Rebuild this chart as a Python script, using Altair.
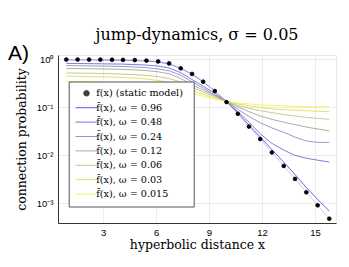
import altair as alt
import pandas as pd

# ---------------- data ----------------
x_vals = [0.92, 1.56, 2.21, 2.85, 3.51, 4.13, 4.80, 5.46, 6.12, 6.74, 7.40, 8.04,
          8.67, 9.33, 9.99, 10.63, 11.26, 11.90, 12.56, 13.23, 13.87, 14.51, 15.15, 15.81]

# log10 of connection probability
static_log = [-0.004, -0.004, -0.005, -0.006, -0.008, -0.012, -0.016, -0.026, -0.045, -0.085,
              -0.187, -0.305, -0.465, -0.66, -0.89, -1.134, -1.40, -1.66, -1.94, -2.22,
              -2.49, -2.77, -3.04, -3.32]

w096 = [-0.010, -0.010, -0.010, -0.012, -0.015, -0.020, -0.025, -0.035, -0.055, -0.095,
        -0.19, -0.31, -0.47, -0.66, -0.88, -1.12, -1.37, -1.62, -1.88, -2.14,
        -2.40, -2.67, -2.92, -3.16]
w048 = [-0.085, -0.087, -0.090, -0.093, -0.097, -0.100, -0.110, -0.120, -0.140, -0.180,
        -0.28, -0.42, -0.56, -0.71, -0.88, -1.09, -1.31, -1.55, -1.75, -1.89,
        -2.00, -2.06, -2.10, -2.14]
w024 = [-0.130, -0.133, -0.136, -0.140, -0.145, -0.150, -0.160, -0.175, -0.200, -0.240,
        -0.33, -0.47, -0.60, -0.74, -0.88, -1.04, -1.19, -1.32, -1.43, -1.52,
        -1.62, -1.70, -1.73, -1.73]
w012 = [-0.190, -0.193, -0.197, -0.200, -0.205, -0.210, -0.220, -0.235, -0.260, -0.300,
        -0.40, -0.53, -0.64, -0.76, -0.88, -0.99, -1.09, -1.18, -1.25, -1.31,
        -1.36, -1.41, -1.45, -1.49]
w006 = [-0.285, -0.288, -0.290, -0.295, -0.300, -0.310, -0.320, -0.335, -0.360, -0.400,
        -0.47, -0.58, -0.68, -0.78, -0.88, -0.96, -1.02, -1.07, -1.11, -1.15,
        -1.18, -1.21, -1.23, -1.25]
w003 = [-0.350, -0.355, -0.360, -0.365, -0.370, -0.380, -0.390, -0.410, -0.440, -0.480,
        -0.55, -0.65, -0.73, -0.81, -0.88, -0.93, -0.97, -1.00, -1.03, -1.05,
        -1.06, -1.07, -1.08, -1.09]
w0015 = [-0.460, -0.465, -0.470, -0.475, -0.480, -0.490, -0.500, -0.520, -0.540, -0.580,
         -0.63, -0.71, -0.77, -0.83, -0.88, -0.91, -0.93, -0.95, -0.96, -0.97,
         -0.98, -0.985, -0.99, -0.99]

labels = ["f(x)  (static model)",
          "f\u0304(x),  ω = 0.96",
          "f\u0304(x),  ω = 0.48",
          "f\u0304(x),  ω = 0.24",
          "f\u0304(x),  ω = 0.12",
          "f\u0304(x),  ω = 0.06",
          "f\u0304(x),  ω = 0.03",
          "f\u0304(x),  ω = 0.015"]
series_logs = [w096, w048, w024, w012, w006, w003, w0015]

x_ticks = [3, 6, 9, 12, 15]
y_ticks = [1, 0.1, 0.01, 0.001]

# ---------------- styles ----------------
colors = ["#2828f0", "#4848d2", "#7373b3", "#8f8f82", "#b6b65e", "#d6d63c", "#f0f020"]

rows = []
for lab, col, vals in zip(labels[1:], colors, series_logs):
    for xv, lv in zip(x_vals, vals):
        rows.append({"series": lab, "color": col, "x": xv, "p": 10 ** lv})
lines_df = pd.DataFrame(rows)
static_df = pd.DataFrame({"series": labels[0], "x": x_vals,
                          "p": [10 ** v for v in static_log]})

xenc = alt.X("x:Q",
             scale=alt.Scale(domain=[0.45, 16.19], nice=False, zero=False),
             axis=alt.Axis(values=x_ticks, title="hyperbolic distance x",
                           labelPadding=4, titlePadding=2))
yenc = alt.Y("p:Q",
             scale=alt.Scale(type="log", domain=[0.00039, 1.23], nice=False),
             axis=alt.Axis(values=y_ticks, title="connection probability",
                           labelExpr="datum.value > 0.5 ? '10\u2070' : datum.value > 0.05 ? '10\u207b\u00b9' : datum.value > 0.005 ? '10\u207b\u00b2' : '10\u207b\u00b3'",
                           labelPadding=5, titlePadding=8))

lines = alt.Chart(lines_df).mark_line(strokeWidth=1, opacity=0.72).encode(
    x=xenc, y=yenc,
    color=alt.Color("color:N", scale=None),
    detail="series:N",
    order="x:Q",
)

static_line = alt.Chart(static_df).mark_line(color="#c4c4c4", strokeWidth=0.8).encode(
    x=xenc, y=yenc, order="x:Q"
)

leg = alt.Legend(title=None, orient="none", legendX=10.7, legendY=26.5,
                 fillColor="white", strokeColor="#555555", padding=7,
                 symbolSize=30, symbolStrokeWidth=1, symbolOpacity=0.75,
                 labelFont="DejaVu Serif", labelFontSize=9.6,
                 rowPadding=3.4, symbolOffset=6, labelOffset=5, labelLimit=0)

shape_range = ["circle"] + ["M-4,0L4,0"] * 7

points = alt.Chart(static_df).mark_point(filled=True, size=14, strokeWidth=0.8, opacity=1).encode(
    x=xenc, y=yenc,
    fill=alt.Fill("series:N", scale=alt.Scale(domain=labels, range=["black"] + colors), legend=leg),
    stroke=alt.Stroke("series:N", scale=alt.Scale(domain=labels, range=["black"] + colors), legend=leg),
    shape=alt.Shape("series:N", scale=alt.Scale(domain=labels, range=shape_range), legend=leg),
)

panel_label = alt.Chart(alt.Data(values=[{"t": "A)"}])).mark_text(
    font="Liberation Sans", fontSize=21, align="left", baseline="alphabetic", color="black"
).encode(text="t:N", x=alt.value(-50), y=alt.value(5))

chart = alt.layer(lines, static_line, points, panel_label).properties(
    width=278, height=168,
    autosize=alt.AutoSizeParams(type="none"),
    padding={"left": 50, "top": 47, "right": 5, "bottom": 36},
    title=alt.Title("jump-dynamics,  σ = 0.05", font="DejaVu Serif", fontSize=16,
                    fontWeight="normal", anchor="middle", offset=0, color="black"),
).configure_view(stroke="#e8e8e8").configure_axis(
    domainColor="#333333", ticks=False, gridColor="#ececec",
    labelFont="Liberation Sans", labelFontSize=9.5, labelColor="black",
    titleFont="DejaVu Serif", titleFontSize=12.5, titleFontWeight="normal", titleColor="black",
)

chart.save("out.html", embed_options={"renderer": "svg", "actions": False})
